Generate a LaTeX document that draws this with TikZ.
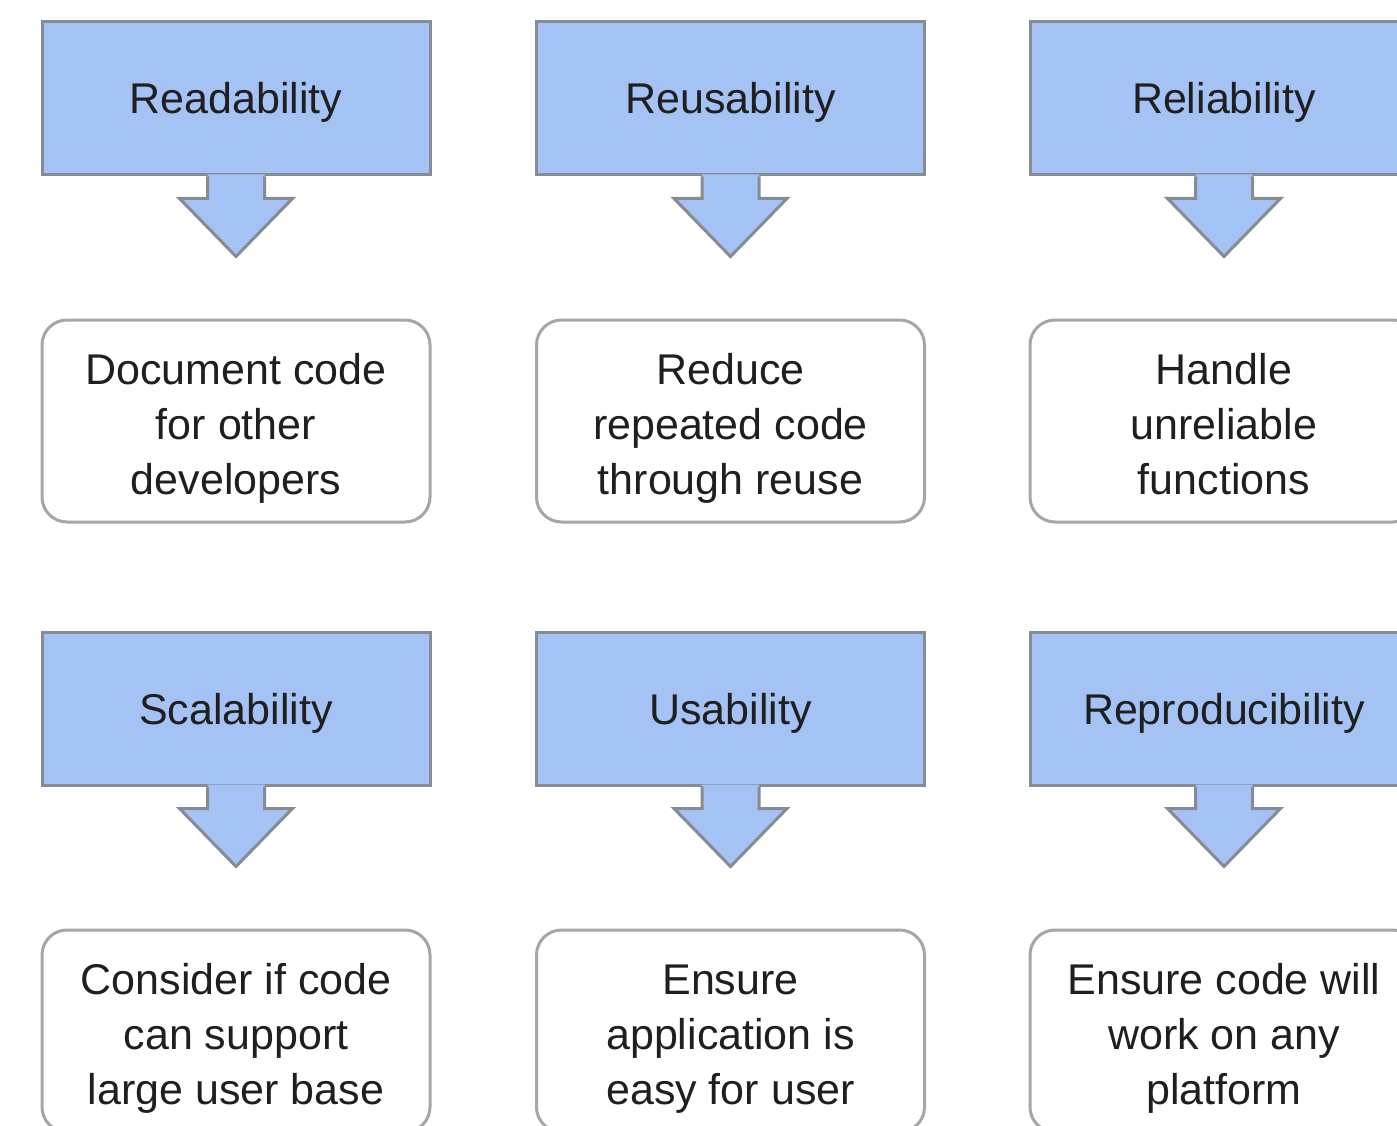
\documentclass[tikz,border=0pt]{standalone}
\usepackage{fontspec}
\setmainfont{Liberation Sans}
\definecolor{headfill}{HTML}{A4C2F4}
\definecolor{headline}{HTML}{878B93}
\definecolor{bodyline}{HTML}{A6A6A6}
\definecolor{inktext}{HTML}{1F1F1F}
\newcommand{\boxtopstrut}{\rule{0pt}{47pt}}
\newcommand{\boxbotstrut}{\rule[-11pt]{0pt}{11pt}}
\begin{document}
\begin{tikzpicture}[x=1pt, y=-1pt,
    headbox/.style={draw=headline, fill=headfill, line width=3pt, minimum width=388pt, minimum height=153pt, text height=31pt, text depth=0pt, text=inktext, font=\fontsize{43}{55}\selectfont},
    bodybox/.style={draw=bodyline, fill=white, line width=3pt, rounded corners=25pt, minimum width=388pt, minimum height=202pt, align=center, text=inktext, font=\fontsize{43}{55}\selectfont}]
    \useasboundingbox (0,0) rectangle (1397,1126);
    \clip (0,0) rectangle (1397,1126);
    \foreach \i/\cx/\cy/\head/\body in {
        1/236/98.5/Readability/{Document code\\for other\\developers},
        2/730.5/98.5/Reusability/{Reduce\\repeated code\\through reuse},
        3/1224/98.5/Reliability/{Handle\\unreliable\\functions},
        4/236/708.5/Scalability/{Consider if code\\can support\\large user base},
        5/730.5/708.5/Usability/{Ensure\\application is\\easy for user},
        6/1224/708.5/Reproducibility/{Ensure code will\\work on any\\platform}} {
        \node[headbox] (h\i) at (\cx,\cy) {\head};
        \node[bodybox] (b\i) at (\cx,\cy+322.5) {\boxtopstrut\body\boxbotstrut};
        \fill[headfill] ([xshift=-28.5pt,yshift=2pt]h\i.south) -- ++(0,24) -- ++(-28,0) -- ++(56.5,58) -- ++(56.5,-58) -- ++(-28,0) -- ++(0,-24) -- cycle;
        \draw[headline, line width=3pt] ([xshift=-28.5pt]h\i.south) -- ++(0,22) -- ++(-28,0) -- ++(56.5,58) -- ++(56.5,-58) -- ++(-28,0) -- ++(0,-22);
    }
\end{tikzpicture}
\end{document}
